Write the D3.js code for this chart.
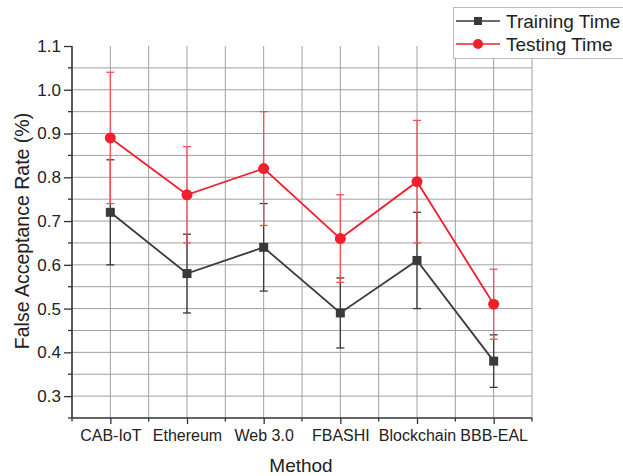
<!DOCTYPE html>
<html>
<head>
<meta charset="utf-8">
<script src="https://cdn.jsdelivr.net/npm/d3@7"></script>
<style>
  body { margin: 0; background: #fff; }
  svg { display: block; font-family: Arial, "Liberation Sans", sans-serif; }
</style>
</head>
<body>
<div id="chart"></div>
<script>
var width = 623;
var height = 476;

var methods = ["CAB-IoT", "Ethereum", "Web 3.0", "FBASHI", "Blockchain", "BBB-EAL"];
var trainValues = [0.72, 0.58, 0.64, 0.49, 0.61, 0.38];
var trainLow = [0.60, 0.49, 0.54, 0.41, 0.50, 0.32];
var trainHigh = [0.84, 0.67, 0.74, 0.57, 0.72, 0.44];
var testValues = [0.89, 0.76, 0.82, 0.66, 0.79, 0.51];
var testLow = [0.74, 0.65, 0.69, 0.56, 0.65, 0.43];
var testHigh = [1.04, 0.87, 0.95, 0.76, 0.93, 0.59];
var yTicks = [0.3, 0.4, 0.5, 0.6, 0.7, 0.8, 0.9, 1.0, 1.1];

var margin = {top: 46, right: 91, bottom: 58, left: 72};
var innerW = width - margin.left - margin.right;
var innerH = height - margin.top - margin.bottom;

var svg = d3.select("#chart")
    .append("svg")
    .attr("width", width)
    .attr("height", height);

var g = svg.append("g")
    .attr("transform", "translate(" + margin.left + "," + margin.top + ")");

var x = d3.scaleLinear().domain([0.5, methods.length + 0.5]).range([0, innerW]);
var y = d3.scaleLinear().domain([0.25, 1.1]).range([innerH, 0]);

// grid
var hGrid = d3.range(0.30, 1.075, 0.05);
g.selectAll("line.hgrid")
    .data(hGrid)
    .enter()
    .append("line")
    .attr("class", "hgrid")
    .attr("x1", 0).attr("x2", innerW)
    .attr("y1", function(d){ return y(d); })
    .attr("y2", function(d){ return y(d); })
    .attr("stroke", "#a0a0a0")
    .attr("stroke-width", 1);

var vGrid = d3.range(1, methods.length + 0.6, 0.5);
g.selectAll("line.vgrid")
    .data(vGrid)
    .enter()
    .append("line")
    .attr("class", "vgrid")
    .attr("x1", function(d){ return x(d); })
    .attr("x2", function(d){ return x(d); })
    .attr("y1", y(1.1)).attr("y2", innerH)
    .attr("stroke", "#a0a0a0")
    .attr("stroke-width", 1);

// axes
var xAxis = d3.axisBottom(x)
    .tickValues(d3.range(1, methods.length + 1))
    .tickFormat(function(d){ return methods[d - 1]; })
    .tickSize(6)
    .tickPadding(6);
var xAx = g.append("g")
    .attr("transform", "translate(0," + innerH + ")")
    .call(xAxis);
xAx.selectAll(".tick line").attr("stroke", "#333").attr("stroke-width", 1.3);
xAx.select(".domain").attr("stroke", "#333").attr("stroke-width", 1.6).attr("d", "M0,0H" + innerW);
xAx.selectAll("text").attr("font-size", 16).attr("fill", "#222");
xAx.selectAll("line.minor")
    .data(d3.range(0.5, methods.length + 0.6, 1))
    .enter()
    .append("line")
    .attr("class", "minor")
    .attr("x1", function(d){ return x(d); })
    .attr("x2", function(d){ return x(d); })
    .attr("y1", 0).attr("y2", 3.5)
    .attr("stroke", "#333").attr("stroke-width", 1.3);

var yAxis = d3.axisLeft(y)
    .tickValues(yTicks)
    .tickFormat(d3.format(".1f"))
    .tickSize(8)
    .tickPadding(3);
var yAx = g.append("g").call(yAxis);
yAx.selectAll(".tick line").attr("stroke", "#333").attr("stroke-width", 1.3);
yAx.select(".domain").attr("stroke", "#333").attr("stroke-width", 1.6).attr("d", "M0," + innerH + "V0");
yAx.selectAll("text").attr("font-size", 17).attr("fill", "#222");
yAx.selectAll("line.minor")
    .data(d3.range(0.25, 1.1, 0.1))
    .enter()
    .append("line")
    .attr("class", "minor")
    .attr("x1", 0).attr("x2", -4)
    .attr("y1", function(d){ return y(d); })
    .attr("y2", function(d){ return y(d); })
    .attr("stroke", "#333").attr("stroke-width", 1.3);

// axis titles
svg.append("text")
    .attr("x", margin.left + innerW / 2 - 1)
    .attr("y", 472)
    .attr("text-anchor", "middle")
    .attr("font-size", 19)
    .attr("fill", "#222")
    .text("Method");

svg.append("text")
    .attr("transform", "translate(29,231) rotate(-90)")
    .attr("text-anchor", "middle")
    .attr("font-size", 19.5)
    .attr("fill", "#222")
    .text("False Acceptance Rate (%)");

// series
var series = [
    {name: "Training Time", values: trainValues, low: trainLow, high: trainHigh, color: "#3a3a3a", err: "#3a3a3a", shape: "square"},
    {name: "Testing Time", values: testValues, low: testLow, high: testHigh, color: "#f0202e", err: "#f5505a", shape: "circle"}
];

var line = d3.line()
    .x(function(d, i){ return x(i + 1); })
    .y(function(d){ return y(d); });

series.forEach(function(s){
    var sg = g.append("g");
    // error bars
    s.values.forEach(function(v, i){
        var cx = x(i + 1);
        sg.append("line")
            .attr("x1", cx).attr("x2", cx)
            .attr("y1", y(s.low[i])).attr("y2", y(s.high[i]))
            .attr("stroke", s.err).attr("stroke-width", 1.3);
        [s.low[i], s.high[i]].forEach(function(e){
            sg.append("line")
                .attr("x1", cx - 4).attr("x2", cx + 4)
                .attr("y1", y(e)).attr("y2", y(e))
                .attr("stroke", s.err).attr("stroke-width", 1.3);
        });
    });
    sg.append("path")
        .datum(s.values)
        .attr("d", line)
        .attr("fill", "none")
        .attr("stroke", s.color)
        .attr("stroke-width", 1.8);
    if (s.shape === "square") {
        sg.selectAll("rect")
            .data(s.values)
            .enter()
            .append("rect")
            .attr("x", function(d, i){ return x(i + 1) - 4.5; })
            .attr("y", function(d){ return y(d) - 4.5; })
            .attr("width", 9).attr("height", 9)
            .attr("fill", s.color);
    } else {
        sg.selectAll("circle")
            .data(s.values)
            .enter()
            .append("circle")
            .attr("cx", function(d, i){ return x(i + 1); })
            .attr("cy", function(d){ return y(d); })
            .attr("r", 5.5)
            .attr("fill", s.color);
    }
});

// legend
var lg = svg.append("g").attr("transform", "translate(453,7)");
lg.append("rect")
    .attr("x", 0.5).attr("y", 0.5)
    .attr("width", 172).attr("height", 51)
    .attr("fill", "#fff")
    .attr("stroke", "#bbb")
    .attr("stroke-width", 1);
series.forEach(function(s, i){
    var ly = 14 + i * 23;
    lg.append("line")
        .attr("x1", 3).attr("x2", 47)
        .attr("y1", ly).attr("y2", ly)
        .attr("stroke", s.color).attr("stroke-width", 1.5);
    if (s.shape === "square") {
        lg.append("rect")
            .attr("x", 25 - 4).attr("y", ly - 4)
            .attr("width", 8).attr("height", 8)
            .attr("fill", s.color);
    } else {
        lg.append("circle")
            .attr("cx", 25).attr("cy", ly).attr("r", 5)
            .attr("fill", s.color);
    }
    lg.append("text")
        .attr("x", 53).attr("y", ly + 6.5)
        .attr("font-size", 19)
        .attr("fill", "#222")
        .text(s.name);
});
</script>
</body>
</html>
